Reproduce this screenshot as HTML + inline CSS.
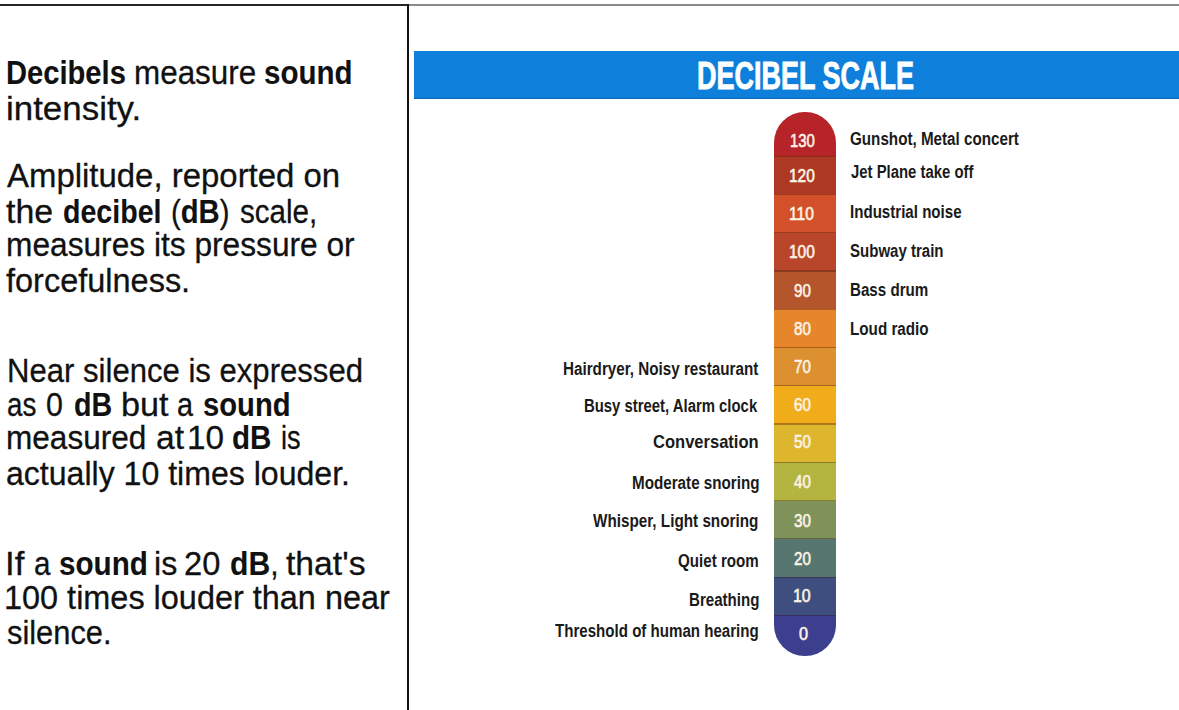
<!DOCTYPE html>
<html><head><meta charset="utf-8"><title>Decibel Scale</title>
<style>
html,body{margin:0;padding:0;background:#fff;}
body{width:1179px;height:710px;position:relative;overflow:hidden;font-family:"Liberation Sans",Arial,sans-serif;}
.lt,.lb,.nm,.tt{position:absolute;white-space:nowrap;transform-origin:0 0;}
.lt{font-size:34px;line-height:34px;color:#111;}
.lt{-webkit-text-stroke:0.3px #111;}
.lt b{font-weight:bold;-webkit-text-stroke-width:0.1px;}
.lb{font-size:18px;line-height:18px;font-weight:bold;color:#1a1a1a;}
.nm{font-size:18px;line-height:18px;color:#fdf3e6;-webkit-text-stroke:0.6px #fdf3e6;}
.tt{font-size:38px;line-height:38px;font-weight:bold;color:#fff;-webkit-text-stroke:0.9px #fff;}
#hl{position:absolute;left:0;top:4px;width:408px;height:2px;background:#262626;}
#hr{position:absolute;left:408px;top:4px;width:771px;height:2px;background:#8a8a8a;}
#vl{position:absolute;left:407px;top:4px;width:2px;height:706px;background:#111;}
#banner{position:absolute;left:413.5px;top:50.8px;width:766px;height:48.5px;background:#0E7FDA;box-shadow:inset 0 -1px 0 rgba(10,60,130,0.35);}
#bar{position:absolute;left:774.2px;top:112.0px;width:61.40px;height:544.00px;border-radius:30.70px;overflow:hidden;}
.sg{position:absolute;left:0;width:100%;}
.bd{position:absolute;left:0;width:100%;height:1.2px;background:rgba(60,20,10,0.35);}
</style></head><body>
<div id="hl"></div><div id="hr"></div><div id="vl"></div>
<div class="lt" style="left:6.19px;top:54.90px;transform:scaleX(0.8573)"><b>Decibels</b></div><div class="lt" style="left:133.65px;top:54.90px;transform:scaleX(0.9237)">measure</div><div class="lt" style="left:264.43px;top:54.90px;transform:scaleX(0.8678)"><b>sound</b></div><div class="lt" style="left:5.85px;top:91.00px;transform:scaleX(1.0267)">intensity.</div><div class="lt" style="left:6.90px;top:157.80px;transform:scaleX(0.9685)">Amplitude, reported on</div><div class="lt" style="left:6.40px;top:193.60px;transform:scaleX(0.9966)">the</div><div class="lt" style="left:62.96px;top:193.60px;transform:scaleX(0.8404)"><b>decibel</b></div><div class="lt" style="left:170.68px;top:193.60px;transform:scaleX(0.8601)">(<b>dB</b>)</div><div class="lt" style="left:240.20px;top:193.60px;transform:scaleX(0.8695)">scale,</div><div class="lt" style="left:6.04px;top:227.10px;transform:scaleX(0.9319)">measures its pressure or</div><div class="lt" style="left:6.40px;top:262.60px;transform:scaleX(0.9553)">forcefulness.</div><div class="lt" style="left:6.57px;top:352.80px;transform:scaleX(0.9144)">Near silence is expressed</div><div class="lt" style="left:7.08px;top:386.70px;transform:scaleX(0.8169)">as</div><div class="lt" style="left:46.21px;top:386.70px;transform:scaleX(0.8941)">0</div><div class="lt" style="left:74.26px;top:386.70px;transform:scaleX(0.8431)"><b>dB</b></div><div class="lt" style="left:120.59px;top:386.70px;transform:scaleX(1.0059)">but</div><div class="lt" style="left:177.25px;top:386.70px;transform:scaleX(0.8500)">a</div><div class="lt" style="left:202.74px;top:386.70px;transform:scaleX(0.8587)"><b>sound</b></div><div class="lt" style="left:6.04px;top:419.70px;transform:scaleX(0.9282)">measured</div><div class="lt" style="left:155.51px;top:419.70px;transform:scaleX(0.9889)">at</div><div class="lt" style="left:187.34px;top:419.70px;transform:scaleX(0.9797)">10</div><div class="lt" style="left:231.83px;top:419.70px;transform:scaleX(0.8705)"><b>dB</b></div><div class="lt" style="left:281.01px;top:419.70px;transform:scaleX(0.7977)">is</div><div class="lt" style="left:6.46px;top:455.70px;transform:scaleX(0.9430)">actually 10 times louder.</div><div class="lt" style="left:5.33px;top:545.90px;transform:scaleX(1.0220)">If</div><div class="lt" style="left:33.63px;top:545.90px;transform:scaleX(0.8722)">a</div><div class="lt" style="left:58.73px;top:545.90px;transform:scaleX(0.8708)"><b>sound</b></div><div class="lt" style="left:153.51px;top:545.90px;transform:scaleX(0.9465)">is</div><div class="lt" style="left:184.24px;top:545.90px;transform:scaleX(0.9608)">20</div><div class="lt" style="left:229.81px;top:545.90px;transform:scaleX(0.8866)"><b>dB</b>,</div><div class="lt" style="left:285.60px;top:545.90px;transform:scaleX(0.9911)">that's</div><div class="lt" style="left:4.49px;top:579.60px;transform:scaleX(0.9539)">100 times louder than near</div><div class="lt" style="left:7.10px;top:615.40px;transform:scaleX(0.9066)">silence.</div>
<div id="banner"></div>
<div class="tt" style="left:696.58px;top:57.00px;transform:scaleX(0.7101)">DECIBEL SCALE</div>
<div id="bar"><div class="sg" style="top:0.00px;height:44.20px;background:#B62329"></div><div class="sg" style="top:44.20px;height:38.27px;background:#AD3924"></div><div class="sg" style="top:82.47px;height:38.27px;background:#D2512A"></div><div class="sg" style="top:120.74px;height:38.27px;background:#B9462A"></div><div class="sg" style="top:159.01px;height:38.27px;background:#B5552C"></div><div class="sg" style="top:197.28px;height:38.27px;background:#E7852A"></div><div class="sg" style="top:235.55px;height:38.27px;background:#DC902F"></div><div class="sg" style="top:273.82px;height:38.27px;background:#F1AC1B"></div><div class="sg" style="top:312.09px;height:38.27px;background:#DEB62D"></div><div class="sg" style="top:350.36px;height:38.27px;background:#B4B441"></div><div class="sg" style="top:388.63px;height:38.27px;background:#7E925A"></div><div class="sg" style="top:426.90px;height:38.27px;background:#57766F"></div><div class="sg" style="top:465.17px;height:38.27px;background:#3E4E7F"></div><div class="sg" style="top:503.44px;height:40.56px;background:#3B3F8E"></div><div class="bd" style="top:43.60px"></div><div class="bd" style="top:81.87px"></div><div class="bd" style="top:120.14px"></div><div class="bd" style="top:158.41px"></div><div class="bd" style="top:196.68px"></div><div class="bd" style="top:234.95px"></div><div class="bd" style="top:273.22px"></div><div class="bd" style="top:311.49px"></div><div class="bd" style="top:349.76px"></div><div class="bd" style="top:388.03px"></div><div class="bd" style="top:426.30px"></div><div class="bd" style="top:464.57px"></div><div class="bd" style="top:502.84px"></div></div>
<div class="nm" style="left:790.17px;top:132.10px;transform:scaleX(0.8270)">130</div><div class="nm" style="left:789.44px;top:167.30px;transform:scaleX(0.8580)">120</div><div class="nm" style="left:789.44px;top:205.00px;transform:scaleX(0.8633)">110</div><div class="nm" style="left:789.44px;top:242.70px;transform:scaleX(0.8580)">100</div><div class="nm" style="left:794.30px;top:281.50px;transform:scaleX(0.8395)">90</div><div class="nm" style="left:794.30px;top:319.70px;transform:scaleX(0.8395)">80</div><div class="nm" style="left:794.30px;top:358.00px;transform:scaleX(0.8395)">70</div><div class="nm" style="left:794.30px;top:395.60px;transform:scaleX(0.8395)">60</div><div class="nm" style="left:794.30px;top:433.40px;transform:scaleX(0.8395)">50</div><div class="nm" style="left:794.30px;top:473.20px;transform:scaleX(0.8395)">40</div><div class="nm" style="left:794.30px;top:512.10px;transform:scaleX(0.8395)">30</div><div class="nm" style="left:794.30px;top:549.60px;transform:scaleX(0.8395)">20</div><div class="nm" style="left:793.42px;top:587.00px;transform:scaleX(0.8837)">10</div><div class="nm" style="left:798.50px;top:625.10px;transform:scaleX(0.9000)">0</div>
<div class="lb" style="left:850.00px;top:130.00px;transform:scaleX(0.8444)">Gunshot, Metal concert</div><div class="lb" style="left:850.50px;top:163.20px;transform:scaleX(0.8272)">Jet Plane take off</div><div class="lb" style="left:850.46px;top:202.50px;transform:scaleX(0.8386)">Industrial noise</div><div class="lb" style="left:849.70px;top:241.70px;transform:scaleX(0.8349)">Subway train</div><div class="lb" style="left:849.66px;top:280.60px;transform:scaleX(0.8415)">Bass drum</div><div class="lb" style="left:850.15px;top:320.30px;transform:scaleX(0.8457)">Loud radio</div><div class="lb" style="left:562.85px;top:359.90px;transform:scaleX(0.8453)">Hairdryer, Noisy restaurant</div><div class="lb" style="left:584.07px;top:396.50px;transform:scaleX(0.8268)">Busy street, Alarm clock</div><div class="lb" style="font-size:19px;line-height:19px;left:652.50px;top:431.60px;transform:scaleX(0.8700)">Conversation</div><div class="lb" style="left:631.56px;top:474.00px;transform:scaleX(0.8449)">Moderate snoring</div><div class="lb" style="left:593.30px;top:512.20px;transform:scaleX(0.8479)">Whisper, Light snoring</div><div class="lb" style="left:677.90px;top:551.90px;transform:scaleX(0.8411)">Quiet room</div><div class="lb" style="left:688.66px;top:591.00px;transform:scaleX(0.8377)">Breathing</div><div class="lb" style="left:555.30px;top:621.50px;transform:scaleX(0.8384)">Threshold of human hearing</div>
</body></html>
